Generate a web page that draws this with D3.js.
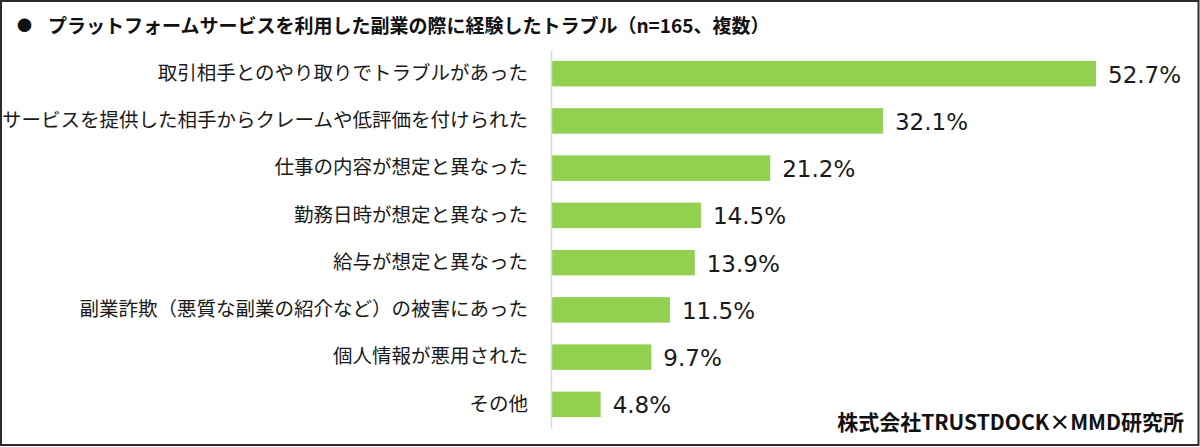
<!DOCTYPE html>
<html>
<head>
<meta charset="utf-8">
<script src="https://cdn.jsdelivr.net/npm/d3@7"></script>
<style>
  html, body { margin: 0; padding: 0; background: #fff; }
  svg { display: block; }
</style>
</head>
<body>
<div id="chart"></div>
<script>

var categories = [
  "取引相手とのやり取りでトラブルがあった",
  "サービスを提供した相手からクレームや低評価を付けられた",
  "仕事の内容が想定と異なった",
  "勤務日時が想定と異なった",
  "給与が想定と異なった",
  "副業詐欺（悪質な副業の紹介など）の被害にあった",
  "個人情報が悪用された",
  "その他"
]

var values = [52.7, 32.1, 21.2, 14.5, 13.9, 11.5, 9.7, 4.8]

var title = "プラットフォームサービスを利用した副業の際に経験したトラブル（n=165、複数）"

var source = "株式会社TRUSTDOCK×MMD研究所"

var width = 1200
var height = 447

var jp = "'Noto Sans CJK JP', 'Noto Sans', sans-serif"

var svg = d3.select("#chart").append("svg")
    .attr("width", width)
    .attr("height", height)

// frame
svg.append("rect")
    .attr("x", 1)
    .attr("y", 1)
    .attr("width", width - 2.5)
    .attr("height", height - 3)
    .attr("fill", "#fff")
    .attr("stroke", "#2b2b2b")
    .attr("stroke-width", 2)

var x = d3.scaleLinear()
    .domain([0, 60])
    .range([551, 1171.5])

var y = d3.scaleBand()
    .domain(categories)
    .range([50, 428])
    .paddingInner(0.46)
    .paddingOuter(0.23)

// title
svg.append("text")
    .attr("x", 17)
    .attr("y", 24)
    .attr("dominant-baseline", "central")
    .style("font-family", jp)
    .style("font-size", "15px")
    .style("fill", "#111")
    .text("●")

svg.append("text")
    .attr("x", 48)
    .attr("y", 24)
    .attr("dominant-baseline", "central")
    .style("font-family", jp)
    .style("font-size", "19px")
    .style("font-weight", "bold")
    .style("fill", "#111")
    .text(title)

// bars
svg.selectAll(".bar")
    .data(values)
    .enter().append("rect")
    .attr("class", "bar")
    .attr("x", x(0))
    .attr("y", function(d, i) { return y(categories[i]) })
    .attr("width", function(d) { return x(d) - x(0) })
    .attr("height", y.bandwidth())
    .attr("fill", "#92d050")

// category axis
var axis = svg.append("g")
    .attr("transform", "translate(" + x(0) + ",0)")
    .call(d3.axisLeft(y).tickSize(0).tickPadding(23))

axis.select(".domain")
    .attr("stroke", "#d9d9d9")
    .attr("stroke-width", 1.5)

axis.selectAll("text")
    .style("font-family", jp)
    .style("font-size", "19.5px")
    .style("fill", "#1a1a1a")

// value labels
svg.selectAll(".value")
    .data(values)
    .enter().append("text")
    .attr("class", "value")
    .attr("x", function(d) { return x(d) + 12 })
    .attr("y", function(d, i) { return y(categories[i]) + y.bandwidth() / 2 + 1 })
    .attr("dominant-baseline", "central")
    .style("font-family", "'DejaVu Sans', Verdana, sans-serif")
    .style("font-size", "23px")
    .style("fill", "#1a1a1a")
    .text(function(d) { return d.toFixed(1) + "%" })

// source
svg.append("text")
    .attr("x", 1184)
    .attr("y", 421)
    .attr("text-anchor", "end")
    .attr("dominant-baseline", "central")
    .style("font-family", jp)
    .style("font-size", "21px")
    .style("font-weight", "bold")
    .style("fill", "#111")
    .text(source)

</script>
</body>
</html>
